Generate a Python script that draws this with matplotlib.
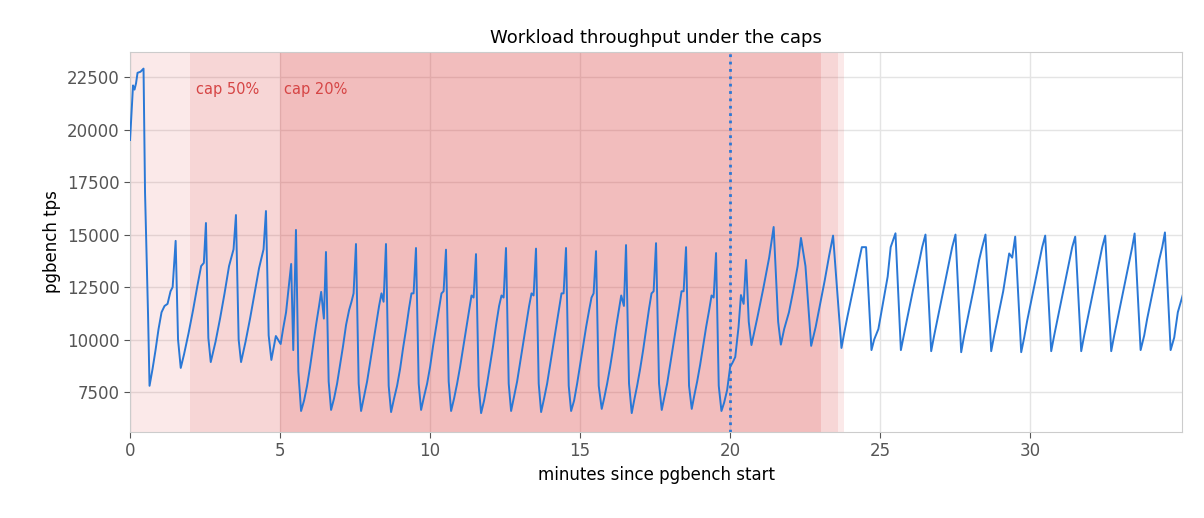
import matplotlib.pyplot as plt

# minutes since start / pgbench tps
t_head = [0.0, 0.05, 0.1, 0.15, 0.2, 0.25, 0.35, 0.45, 0.5, 0.6, 0.65, 0.75, 0.85, 0.95, 1.05, 1.15, 1.25, 1.35, 1.42, 1.52,
          1.6, 1.69, 1.8, 1.95, 2.1, 2.25, 2.37, 2.46, 2.53, 2.61, 2.69, 2.85, 3.0, 3.15, 3.3, 3.45, 3.53,
          3.62, 3.7, 3.85, 4.0, 4.15, 4.3, 4.45, 4.53, 4.62, 4.71, 4.86, 5.02, 5.1, 5.2, 5.37, 5.44, 5.53, 5.61]
v_head = [19500, 20800, 22100, 21900, 22200, 22700, 22750, 22900, 17000, 11200, 7800, 8600, 9500, 10500, 11300, 11600, 11700, 12300, 12500, 14700,
          10000, 8650, 9300, 10300, 11400, 12600, 13500, 13650, 15550, 10080, 8930, 9900, 11000, 12200, 13500, 14300, 15930,
          10000, 8930, 9900, 11000, 12200, 13400, 14300, 16120, 10200, 9030, 10170, 9790, 10500, 11300, 13600, 9500, 15220, 8500]

# cap 20% sawtooth, one row per cycle: trough .7 ... peak .53 of next minute
t_mid = [5.7, 5.8, 5.9, 6.0, 6.1, 6.2, 6.3, 6.37, 6.46, 6.53, 6.62,
         6.7, 6.8, 6.9, 7.0, 7.1, 7.2, 7.3, 7.38, 7.45, 7.53, 7.62,
         7.7, 7.8, 7.9, 8.0, 8.1, 8.2, 8.3, 8.38, 8.45, 8.53, 8.62,
         8.7, 8.8, 8.9, 9.0, 9.1, 9.2, 9.3, 9.38, 9.45, 9.53, 9.62,
         9.7, 9.8, 9.9, 10.0, 10.1, 10.2, 10.3, 10.38, 10.45, 10.53, 10.62,
         10.7, 10.8, 10.9, 11.0, 11.1, 11.2, 11.3, 11.38, 11.45, 11.53, 11.62,
         11.7, 11.8, 11.9, 12.0, 12.1, 12.2, 12.3, 12.38, 12.45, 12.53, 12.62,
         12.7, 12.8, 12.9, 13.0, 13.1, 13.2, 13.3, 13.38, 13.45, 13.53, 13.62,
         13.7, 13.8, 13.9, 14.0, 14.1, 14.2, 14.3, 14.38, 14.45, 14.53, 14.62,
         14.7, 14.8, 14.9, 15.0, 15.1, 15.2, 15.3, 15.38, 15.45, 15.53, 15.62,
         15.72, 15.8, 15.9, 16.0, 16.1, 16.2, 16.28, 16.37, 16.46, 16.53, 16.63,
         16.72, 16.8, 16.9, 17.0, 17.1, 17.2, 17.3, 17.38, 17.45, 17.53, 17.63,
         17.72, 17.8, 17.9, 18.0, 18.1, 18.2, 18.3, 18.38, 18.45, 18.53, 18.63,
         18.72, 18.8, 18.9, 19.0, 19.1, 19.2, 19.3, 19.38, 19.45, 19.53, 19.62]
v_mid = [6600, 7100, 7800, 8700, 9700, 10700, 11600, 12270, 11000, 14170, 8000,
         6650, 7200, 7900, 8800, 9700, 10700, 11400, 11800, 12200, 14550, 7900,
         6600, 7300, 8000, 8900, 9800, 10700, 11600, 12200, 11800, 14550, 7800,
         6550, 7200, 7800, 8600, 9600, 10500, 11500, 12200, 12200, 14360, 7900,
         6650, 7300, 7900, 8700, 9700, 10600, 11500, 12200, 12300, 14280, 8000,
         6600, 7200, 7900, 8700, 9600, 10500, 11400, 12100, 12000, 14070, 7800,
         6500, 7100, 7900, 8800, 9700, 10700, 11600, 12100, 12000, 14360, 7900,
         6600, 7300, 8000, 8900, 9800, 10700, 11600, 12200, 12100, 14330, 7900,
         6550, 7200, 7900, 8800, 9700, 10600, 11500, 12200, 12200, 14360, 7800,
         6600, 7100, 7900, 8800, 9700, 10600, 11400, 12000, 12200, 14210, 7800,
         6700, 7200, 7900, 8700, 9600, 10600, 11300, 12100, 11600, 14500, 7900,
         6500, 7100, 7800, 8600, 9500, 10500, 11500, 12200, 12300, 14590, 7900,
         6650, 7200, 7900, 8800, 9700, 10600, 11500, 12300, 12300, 14400, 7800,
         6700, 7300, 8000, 8800, 9700, 10600, 11400, 12100, 12000, 14120, 7800]

# after cap 20% is lifted
t_tail = [19.71, 19.8, 19.9, 20.0, 20.08, 20.17, 20.28, 20.36, 20.45, 20.53, 20.62, 20.71, 20.9, 21.1, 21.3, 21.45, 21.6, 21.69, 21.8, 21.96,
          22.1, 22.25, 22.36, 22.51, 22.7, 22.85, 23.0, 23.15, 23.3, 23.43, 23.71, 23.8, 23.91, 24.1, 24.3, 24.39, 24.53, 24.71, 24.8, 24.94,
          25.1, 25.25, 25.35, 25.51, 25.69, 25.8, 25.9, 26.1, 26.3, 26.4, 26.51, 26.7, 26.8, 26.9, 27.1, 27.3, 27.4, 27.51,
          27.7, 27.8, 27.9, 28.1, 28.3, 28.4, 28.51, 28.7, 28.8, 28.9, 29.1, 29.3, 29.4, 29.5, 29.7, 29.8, 29.9, 30.1, 30.3, 30.4, 30.5,
          30.7, 30.8, 30.9, 31.1, 31.3, 31.4, 31.5, 31.7, 31.8, 31.9, 32.1, 32.3, 32.4, 32.5, 32.7, 32.8, 32.9, 33.1, 33.3, 33.4, 33.48,
          33.68, 33.8, 33.9, 34.1, 34.3, 34.4, 34.49, 34.68, 34.8, 34.92, 35.1]
v_tail = [6600, 7000, 7600, 8700, 8900, 9170, 10600, 12120, 11700, 13790, 10850, 9740, 11000, 12400, 13900, 15360, 10850, 9760, 10500, 11300,
          12300, 13500, 14840, 13500, 9700, 10600, 11700, 12800, 14000, 14950, 9600, 10300, 11100, 12400, 13800, 14400, 14400, 9500, 10000, 10500,
          11800, 13000, 14400, 15060, 9500, 10300, 11000, 12400, 13700, 14400, 15000, 9450, 10200, 10900, 12300, 13700, 14400, 15000,
          9400, 10200, 10900, 12300, 13800, 14400, 15000, 9450, 10200, 10900, 12300, 14100, 13900, 14900, 9400, 10100, 10900, 12300, 13700, 14400, 14950,
          9450, 10200, 10900, 12300, 13700, 14400, 14900, 9450, 10200, 10900, 12300, 13700, 14400, 14950, 9450, 10200, 10900, 12300, 13700, 14400, 15050,
          9500, 10200, 11000, 12400, 13800, 14400, 15100, 9500, 10100, 11300, 12200]

t = t_head + t_mid + t_tail
v = v_head + v_mid + v_tail

fig = plt.figure(figsize=(12.04, 5.18), dpi=100)
ax = fig.add_axes([0.108, 0.166, 0.874, 0.734])
ax.set_axisbelow(True)
ax.grid(True, color='#e4e4e4', lw=1)

# cap windows (overlapping spans), drawn over the grid
ax.axvspan(0, 23.8, color='#dc3c3c', alpha=0.11, lw=0, zorder=1)
ax.axvspan(2, 23.6, color='#dc3c3c', alpha=0.11, lw=0, zorder=1)
ax.axvspan(5, 23.03, color='#dc3c3c', alpha=0.16, lw=0, zorder=1)

ax.plot(t, v, color='#2a78d6', lw=1.4, zorder=3)
ax.axvline(20, color='#2a78d6', ls=':', lw=2, zorder=3)

ax.text(2.2, 21900, 'cap 50%', color='#d64545', fontsize=10.5, va='center')
ax.text(5.12, 21900, 'cap 20%', color='#d64545', fontsize=10.5, va='center')

ax.set_xlim(0, 35.07)
ax.set_ylim(5600, 23700)
ax.set_xticks([0, 5, 10, 15, 20, 25, 30])
ax.set_yticks([7500, 10000, 12500, 15000, 17500, 20000, 22500])
for s in ax.spines.values():
    s.set_color('#cccccc')
ax.tick_params(colors='#555555', labelsize=12, length=4)
ax.set_title('Workload throughput under the caps', fontsize=13)
ax.set_xlabel('minutes since pgbench start', fontsize=12)
ax.set_ylabel('pgbench tps', fontsize=12)

fig.savefig('out.png')
